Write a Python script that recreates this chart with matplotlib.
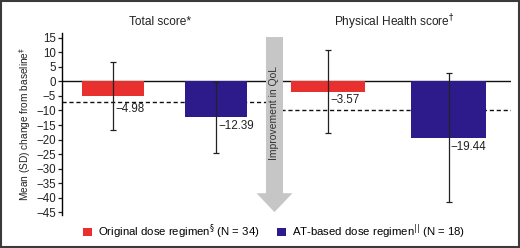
import matplotlib
matplotlib.use("Agg")
import matplotlib.pyplot as plt
from matplotlib.patches import FancyArrow, Rectangle

plt.rcParams["font.family"] = ["Liberation Sans", "DejaVu Sans"]
plt.rcParams["axes.unicode_minus"] = True

# data
panels = ["Total score*", "Physical Health score$^{\\dagger}$"]
regimens = ["Original dose regimen$^{\\S}$ (N = 34)",
            "AT-based dose regimen$^{||}$ (N = 18)"]
means_orig = [-4.98, -3.57]
sd_orig = [11.7, 14.3]
means_at = [-12.39, -19.44]
sd_at = [12.1, 22.2]
mcid = [-7, -10]          # dashed reference lines per panel
yticks = list(range(-45, 20, 5))

RED = "#e8302e"
BLUE = "#2d1b8c"

# layout (x in arbitrary units, axis spans 0..4.49)
x_orig = [0.51, 2.66]
x_at = [1.54, 3.865]
widths = [0.62, 0.74]
lab_off_orig = [4.5, 2.9]
lab_off_at = [3.0, 3.2]
arrow_x = 2.125

fig = plt.figure(figsize=(5.2, 2.48), dpi=100)
ax = fig.add_axes([0.1192, 0.1331, 0.8635, 0.7339])

for i in range(2):
    ax.bar(x_orig[i], means_orig[i], width=widths[i], color=RED,
           label=regimens[0] if i == 0 else None, zorder=2)
    ax.bar(x_at[i], means_at[i], width=widths[i], color=BLUE,
           label=regimens[1] if i == 0 else None, zorder=2)
    ax.errorbar([x_orig[i], x_at[i]], [means_orig[i], means_at[i]],
                yerr=[sd_orig[i], sd_at[i]], fmt="none", ecolor="#222222",
                elinewidth=0.9, capsize=2.3, capthick=0.9, zorder=3)
    for x, m, off in [(x_orig[i], means_orig[i], lab_off_orig[i]),
                      (x_at[i], means_at[i], lab_off_at[i])]:
        ax.text(x + 0.02, m - off, f"\u2212{abs(m):.2f}", ha="left",
                va="center", fontsize=8.4, color="#222222", zorder=4)

ax.axhline(0, color="#111111", lw=1.0, zorder=1)
ax.axhline(mcid[0], xmin=0, xmax=arrow_x / 4.49, color="#111111",
           lw=1.0, ls=(0, (3, 2)), zorder=1)
ax.axhline(mcid[1], xmin=arrow_x / 4.49, xmax=1, color="#111111",
           lw=1.0, ls=(0, (3, 2)), zorder=1)

arrow = FancyArrow(arrow_x, 15.3, 0, -60.3, width=0.17, head_width=0.36,
                   head_length=6.5, length_includes_head=True,
                   color="#c6c6c6", ec="none", zorder=5)
ax.add_patch(arrow)
ax.text(arrow_x, -11, "Improvement in QoL", rotation=90, ha="center",
        va="center", fontsize=7.5, color="#333333", zorder=6)

ax.set_xlim(0, 4.49)
ax.set_ylim(-46, 16.7)
ax.set_yticks(yticks)
ax.tick_params(axis="y", direction="out", length=3, width=0.9,
               labelsize=8.3, pad=1.5, colors="#222222")
ax.set_xticks([])
for s in ["top", "right", "bottom"]:
    ax.spines[s].set_visible(False)
ax.spines["left"].set_linewidth(1.0)
ax.set_ylabel("Mean (SD) change from baseline$^{\\ddagger}$", fontsize=7.3,
              labelpad=2, color="#222222")

fig.text(160 / 520, 1 - 22 / 248, panels[0], ha="center", va="center",
         fontsize=8.6, color="#222222")
fig.text(394 / 520, 1 - 22 / 248, panels[1], ha="center", va="center",
         fontsize=8.6, color="#222222")

fig.legend(loc="center", bbox_to_anchor=(0.527, 1 - 232 / 248), ncol=2,
           frameon=False, fontsize=8.2, handlelength=0.75, handleheight=0.75,
           handletextpad=0.5, columnspacing=1.6, borderpad=0)

fig.patches.append(Rectangle((0.002, 0.004), 0.996, 0.992,
                             transform=fig.transFigure, fill=False,
                             ec="#3a3a3a", lw=1.5))

fig.savefig("out.png", dpi=100)
